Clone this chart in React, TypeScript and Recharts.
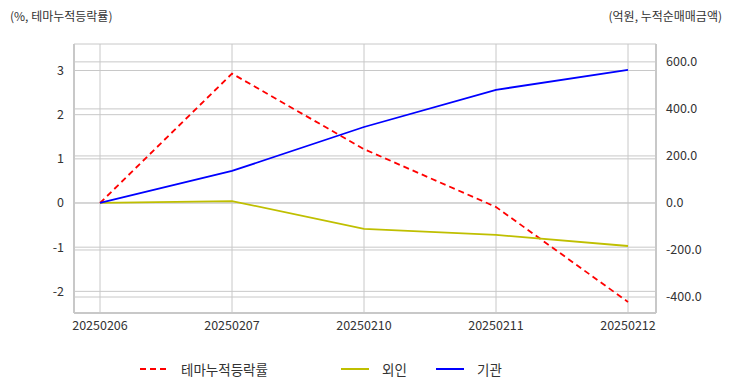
import React from "react";
import { LineChart, Line, XAxis, YAxis, CartesianGrid } from "recharts";

const dates = ["20250206", "20250207", "20250210", "20250211", "20250212"];
const themeRate = [0, 2.93, 1.22, -0.09, -2.24];
const foreign = [0, 8, -110, -136, -183];
const institution = [0, 136, 323, 481, 566];

const leftTicks = [-2, -1, 0, 1, 2, 3];
const rightTicks = [-400, -200, 0, 200, 400, 600];
const leftDomain = [-2.49, 3.6];
const rightDomain = [-468, 676];

const data = dates.map((d, i) => ({
  date: d,
  theme: themeRate[i],
  foreign: foreign[i],
  inst: institution[i],
}));

const FONT = "'Noto Sans CJK KR', 'Noto Sans', sans-serif";
const GRID = "#c8c8c8";
const tickStyle = { fontSize: 12.5, fill: "#333", fontFamily: FONT };

function LegendItem({ color, dashed, label, width }: { color: string; dashed?: boolean; label: string; width: number }) {
  return (
    <div style={{ display: "flex", alignItems: "center", width }}>
      <svg width={28} height={4} style={{ marginRight: 13 }}>
        <line x1={0} y1={2} x2={28} y2={2} stroke={color} strokeWidth={2} strokeDasharray={dashed ? "6 4" : undefined} />
      </svg>
      <span>{label}</span>
    </div>
  );
}

export default function App() {
  return (
    <div style={{ position: "absolute", left: 0, top: 0, width: 732, height: 392, background: "#fff", fontFamily: FONT }}>
      <div style={{ position: "absolute", left: 10, top: 7, fontSize: 12, color: "#333" }}>(%, 테마누적등락률)</div>
      <div style={{ position: "absolute", right: 10, top: 7, fontSize: 12, color: "#333" }}>(억원, 누적순매매금액)</div>
      <LineChart width={732} height={392} data={data} margin={{ top: 44, left: 0, right: 0, bottom: 49 }}>
        {/* left-axis grid plus the plot box (sync=false keeps both sets of lines) */}
        <CartesianGrid yAxisId="left" stroke={GRID} vertical={true} horizontalValues={[...leftTicks, leftDomain[1]]} />
        <CartesianGrid yAxisId="right" stroke={GRID} vertical={false} horizontalValues={rightTicks} />
        <XAxis
          dataKey="date"
          height={30}
          padding={{ left: 26, right: 28 }}
          tickLine={false}
          axisLine={{ stroke: GRID, strokeWidth: 2 }}
          tick={tickStyle}
          interval={0}
        />
        <YAxis
          yAxisId="left"
          width={74}
          domain={leftDomain}
          ticks={leftTicks}
          tickLine={false}
          axisLine={{ stroke: GRID, strokeWidth: 2 }}
          tick={tickStyle}
          tickMargin={4}
        />
        <YAxis
          yAxisId="right"
          orientation="right"
          width={76}
          domain={rightDomain}
          ticks={rightTicks}
          tickLine={false}
          axisLine={{ stroke: GRID, strokeWidth: 2 }}
          tick={tickStyle}
          tickMargin={4}
          tickFormatter={(v: number) => v.toFixed(1)}
        />
        <Line yAxisId="left" dataKey="theme" stroke="#ff0000" strokeWidth={1.8} strokeDasharray="6 4" dot={false} isAnimationActive={false} />
        <Line yAxisId="right" dataKey="foreign" stroke="#bfbf00" strokeWidth={1.8} dot={false} isAnimationActive={false} />
        <Line yAxisId="right" dataKey="inst" stroke="#0000ff" strokeWidth={1.8} dot={false} isAnimationActive={false} />
      </LineChart>
      <div style={{ position: "absolute", left: 140, top: 359, display: "flex", fontSize: 13.5, color: "#333" }}>
        <LegendItem color="#ff0000" dashed label="테마누적등락률" width={201} />
        <LegendItem color="#bfbf00" label="외인" width={95} />
        <LegendItem color="#0000ff" label="기관" width={80} />
      </div>
    </div>
  );
}
